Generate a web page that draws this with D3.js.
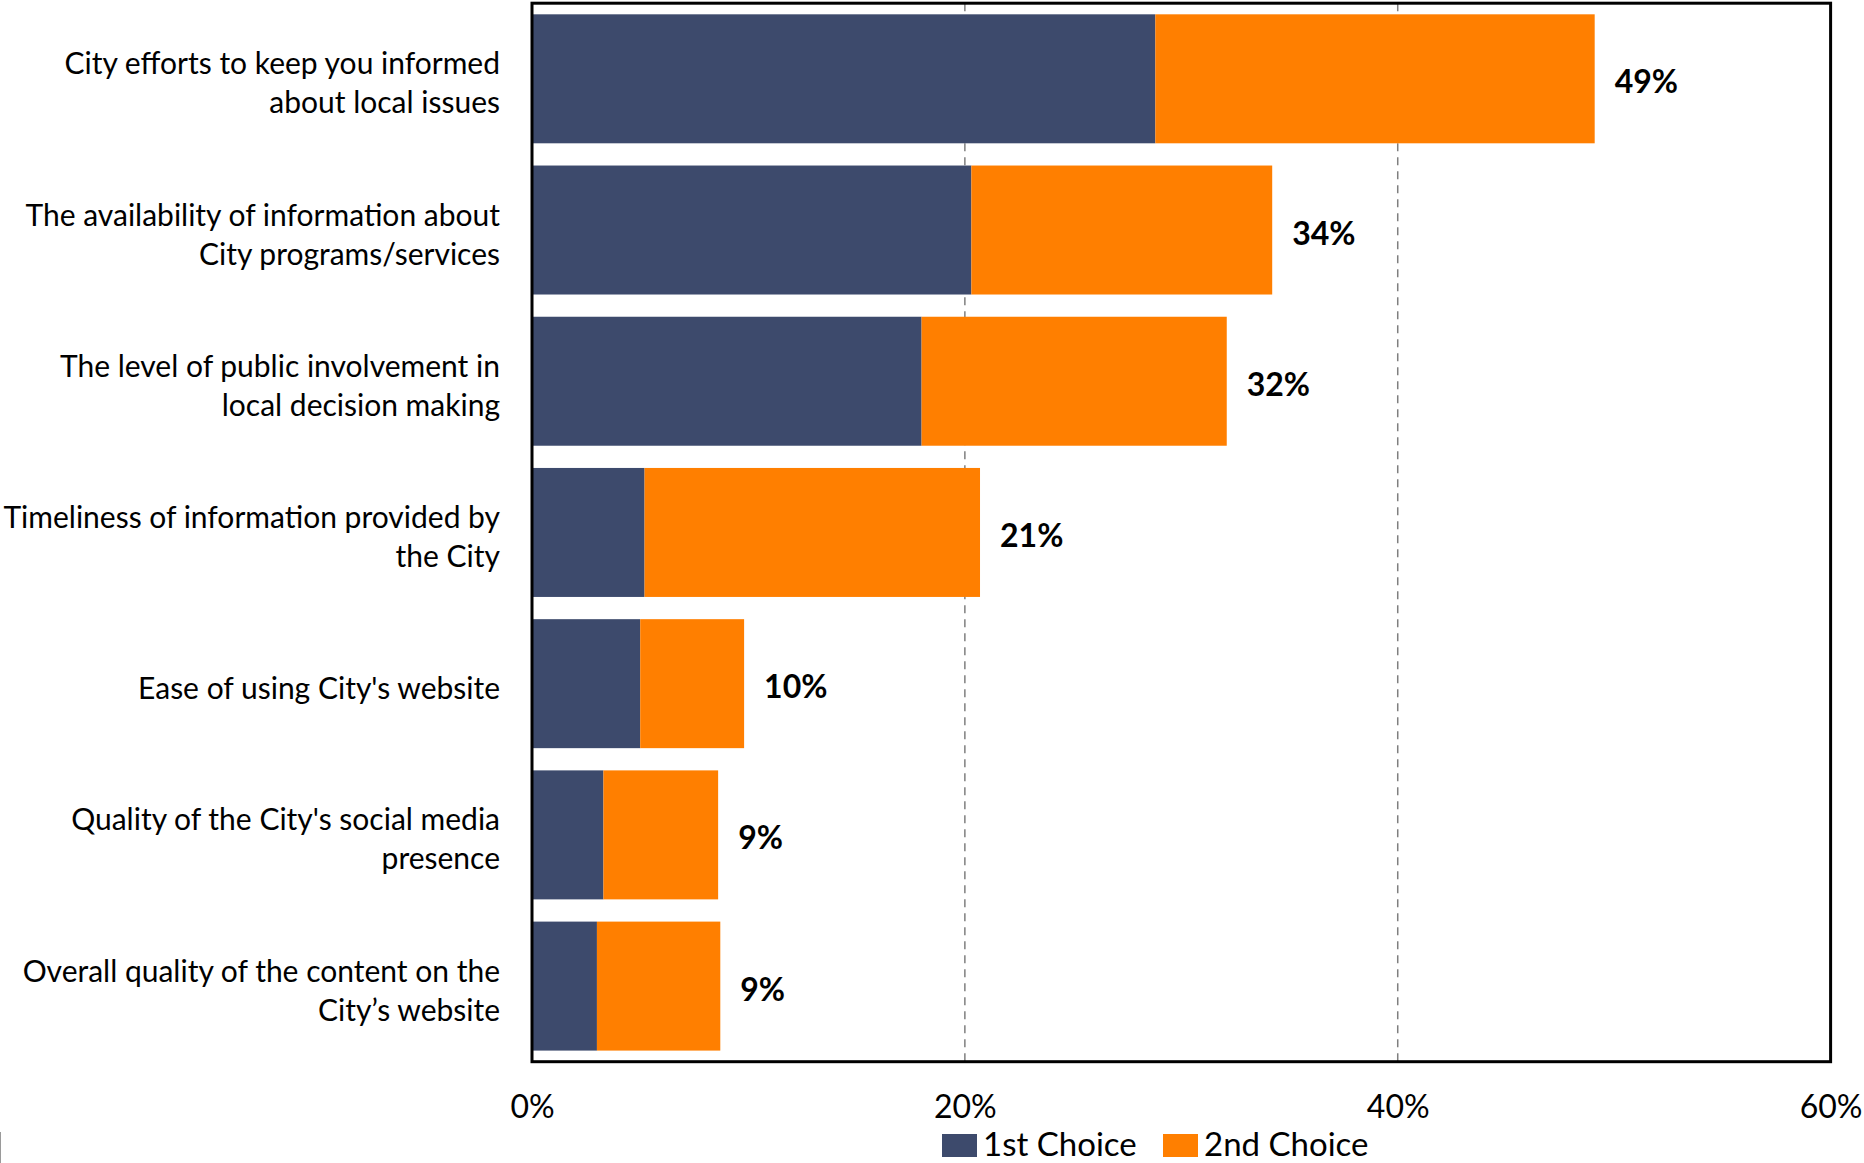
<!DOCTYPE html>
<html>
<head>
<meta charset="utf-8">
<script src="https://cdn.jsdelivr.net/npm/d3@7"></script>
<style>
  html, body { margin: 0; padding: 0; background: #fff; }
  svg { display: block; }
  text { font-family: Lato, "Noto Sans", sans-serif; fill: #000; }
</style>
</head>
<body>
<svg id="chart" width="1864" height="1163"></svg>
<script>
// Survey items, top to bottom ("\n" marks the line break in each label)
const categories = [
  "City efforts to keep you informed\nabout local issues",
  "The availability of information about\nCity programs/services",
  "The level of public involvement in\nlocal decision making",
  "Timeliness of information provided by\nthe City",
  "Ease of using City's website",
  "Quality of the City's social media\npresence",
  "Overall quality of the content on the\nCity\u2019s website"
];
// Percent of respondents naming the item as their 1st / 2nd choice
const firstChoice  = [28.8, 20.3, 18.0, 5.2, 5.0, 3.3, 3.0];
const secondChoice = [20.3, 13.9, 14.1, 15.5, 4.8, 5.3, 5.7];
const seriesNames  = ["1st Choice", "2nd Choice"];
const xTicks = [0, 20, 40, 60];

const colors = ["#3D4A6C", "#FF7F00"];

const svg = d3.select("#chart");
const plot = { left: 532, right: 1830.6, top: 3.2, bottom: 1061.7 };

const x = d3.scaleLinear().domain([0, 60]).range([plot.left, plot.right]);
const y = d3.scaleBand()
  .domain(categories)
  .range([plot.top, plot.bottom])
  .paddingInner(0.147)
  .paddingOuter(0.0735);

const rows = categories.map((c, i) => ({
  cat: c,
  a: firstChoice[i],
  b: secondChoice[i],
  total: firstChoice[i] + secondChoice[i]
}));

// dashed vertical gridlines
svg.append("g")
  .selectAll("line")
  .data(xTicks.filter(t => t > 0 && t < 60))
  .join("line")
  .attr("x1", d => x(d)).attr("x2", d => x(d))
  .attr("y1", plot.top).attr("y2", plot.bottom)
  .attr("stroke", "#7f7f7f")
  .attr("stroke-width", 1.5)
  .attr("stroke-dasharray", "8,6");

// stacked bars
const barG = svg.append("g");
barG.selectAll("rect.first")
  .data(rows)
  .join("rect")
  .attr("class", "first")
  .attr("x", x(0))
  .attr("y", d => y(d.cat))
  .attr("width", d => x(d.a) - x(0))
  .attr("height", y.bandwidth())
  .attr("fill", colors[0]);
barG.selectAll("rect.second")
  .data(rows)
  .join("rect")
  .attr("class", "second")
  .attr("x", d => x(d.a))
  .attr("y", d => y(d.cat))
  .attr("width", d => x(d.total) - x(d.a))
  .attr("height", y.bandwidth())
  .attr("fill", colors[1]);

// total labels
svg.append("g")
  .selectAll("text")
  .data(rows)
  .join("text")
  .attr("x", d => x(d.total) + 20)
  .attr("y", d => y(d.cat) + y.bandwidth() / 2 + 2)
  .attr("dominant-baseline", "central")
  .style("font-size", "32px")
  .style("font-weight", "bold")
  .text(d => Math.round(d.total) + "%");

// category labels
const catG = svg.append("g");
rows.forEach(d => {
  const lines = d.cat.split("\n");
  const lh = 39;
  const cy = y(d.cat) + y.bandwidth() / 2 + 3;
  const t = catG.append("text")
    .attr("text-anchor", "end")
    .style("font-size", "30px");
  lines.forEach((ln, k) => {
    t.append("tspan")
      .attr("x", 500)
      .attr("y", cy + (k - (lines.length - 1) / 2) * lh)
      .attr("dominant-baseline", "central")
      .text(ln);
  });
});

// plot frame
svg.append("rect")
  .attr("x", plot.left).attr("y", plot.top)
  .attr("width", plot.right - plot.left)
  .attr("height", plot.bottom - plot.top)
  .attr("fill", "none")
  .attr("stroke", "#000")
  .attr("stroke-width", 3);

// x axis tick labels
const xAxis = svg.append("g")
  .attr("transform", `translate(0,${plot.bottom})`)
  .call(d3.axisBottom(x).tickValues(xTicks).tickSize(0).tickPadding(0)
    .tickFormat(d => d + "%"));
xAxis.select(".domain").remove();
xAxis.selectAll("text")
  .attr("y", 44)
  .attr("dy", null)
  .attr("dominant-baseline", "central")
  .style("font-family", "Lato, 'Noto Sans', sans-serif")
  .style("font-size", "32px")
  .attr("fill", "#000");

// legend
const legend = svg.append("g");
const legendX = [942, 1163];
seriesNames.forEach((name, i) => {
  legend.append("rect")
    .attr("x", legendX[i]).attr("y", 1134)
    .attr("width", 35).attr("height", 23)
    .attr("fill", colors[i]);
  legend.append("text")
    .attr("x", legendX[i] + 41)
    .attr("y", 1156)
    .style("font-size", "33px")
    .text(name);
});

// thin edge mark at lower left
svg.append("line")
  .attr("x1", 0.5).attr("x2", 0.5)
  .attr("y1", 1132).attr("y2", 1163)
  .attr("stroke", "#9a9a9a")
  .attr("stroke-width", 1);
</script>
</body>
</html>
